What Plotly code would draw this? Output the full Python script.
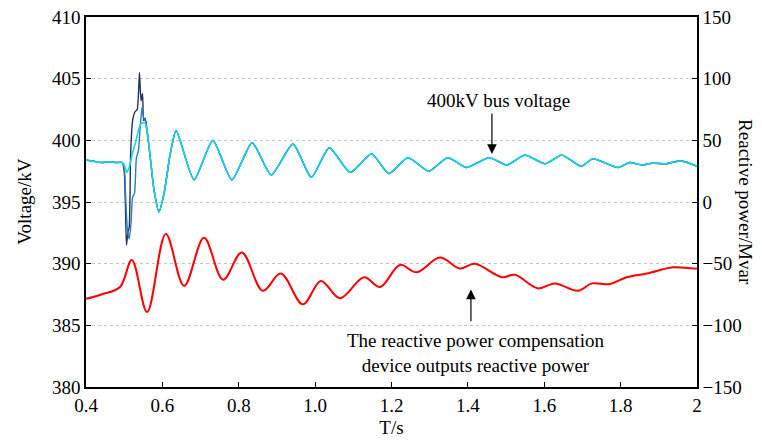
import plotly.graph_objects as go

# ---- data ----
pre_t = [0.40, 0.42, 0.44, 0.46, 0.48, 0.495]
pre_v = [398.4, 398.3, 398.2, 398.25, 398.2, 398.2]

navy_t = [0.500, 0.503, 0.506, 0.510, 0.513, 0.517, 0.522, 0.528, 0.534, 0.540, 0.544, 0.548, 0.551, 0.555]
navy_v = [397.5, 395.0, 391.5, 392.6, 392.9, 399.0, 401.6, 402.3, 402.5, 405.5, 403.2, 403.8, 401.6, 401.8]

blue_t = [0.500, 0.504, 0.508, 0.513, 0.518, 0.522, 0.527, 0.532, 0.537, 0.542, 0.547, 0.551, 0.555]
blue_v = [397.8, 395.3, 392.9, 392.0, 393.3, 395.4, 395.7, 398.6, 399.1, 401.1, 402.7, 401.8, 401.6]

cyan_t = [0.500, 0.507, 0.513, 0.522, 0.531, 0.540, 0.547, 0.555]
cyan_v = [398.0, 397.4, 397.8, 399.0, 400.0, 401.1, 401.4, 401.4]

post_t = [0.565, 0.578, 0.591, 0.605, 0.620, 0.636, 0.683, 0.732, 0.782, 0.835,
          0.885, 0.942, 0.990, 1.037, 1.092, 1.148, 1.193, 1.243, 1.298, 1.347,
          1.396, 1.456, 1.502, 1.549, 1.602, 1.646, 1.697, 1.727, 1.793, 1.824,
          1.855, 1.884, 1.920, 1.955, 1.975, 2.000]
post_v = [399.5, 396.0, 394.2, 395.8, 398.8, 400.8, 396.8, 400.0, 396.8, 399.8,
          397.2, 399.7, 397.0, 399.4, 397.4, 398.9, 397.3, 398.6, 397.5, 398.6,
          397.8, 398.6, 398.0, 398.8, 398.1, 398.8, 397.9, 398.5, 397.8, 398.2,
          398.0, 398.15, 398.1, 398.35, 398.2, 397.9]

q_t = [0.40, 0.44, 0.489, 0.520, 0.560, 0.609, 0.657, 0.709, 0.759, 0.808,
       0.863, 0.910, 0.968, 1.015, 1.065, 1.128, 1.170, 1.222, 1.266, 1.327,
       1.379, 1.418, 1.489, 1.523, 1.583, 1.628, 1.688, 1.725, 1.772, 1.816,
       1.869, 1.937, 1.990, 2.000]
q_m = [-78.5, -75, -68.9, -47, -89.2, -26, -68, -29, -63, -41,
       -72, -58, -83, -64, -78, -61, -69, -51, -57, -45,
       -54, -50, -61, -59, -70, -66, -72, -66, -66.5, -61,
       -58, -53, -54, -54]

x_ticks = [0.4, 0.6, 0.8, 1.0, 1.2, 1.4, 1.6, 1.8, 2.0]
x_labels = ["0.4", "0.6", "0.8", "1.0", "1.2", "1.4", "1.6", "1.8", "2"]

FONT = "Liberation Serif"
FS = 19

fig = go.Figure()
for tt, vv, col, w in [(navy_t, navy_v, "#1f3560", 1.4),
                       (blue_t, blue_v, "#2b7bbf", 1.4),
                       (cyan_t, cyan_v, "#12d6ec", 1.6)]:
    fig.add_trace(go.Scatter(x=pre_t + tt + post_t, y=pre_v + vv + post_v, mode="lines",
                             line=dict(color=col, width=w, shape="spline", smoothing=0.6),
                             showlegend=False))
fig.add_trace(go.Scatter(x=q_t, y=q_m, mode="lines", yaxis="y2",
                         line=dict(color="#ff0000", width=2, shape="spline", smoothing=1),
                         showlegend=False))

tickfont = dict(family=FONT, size=FS, color="black")
fig.update_layout(
    width=762, height=441,
    margin=dict(l=86, r=65, t=17, b=54),
    plot_bgcolor="white", paper_bgcolor="white",
    xaxis=dict(range=[0.4, 2.0], tickvals=x_ticks, ticktext=x_labels, ticks="inside",
               ticklen=5, tickcolor="black", showline=True, linecolor="black", linewidth=1.5,
               mirror=True, showgrid=False, zeroline=False, tickfont=tickfont, automargin=False,
               title=dict(text="T/s", font=dict(family=FONT, size=FS, color="black"), standoff=6)),
    yaxis=dict(range=[380, 410], dtick=5, ticks="inside", ticklen=5, tickcolor="black",
               showline=True, linecolor="black", linewidth=1.5, showgrid=True,
               gridcolor="#c4c4c4", griddash="dot", gridwidth=1, zeroline=False,
               tickfont=tickfont, automargin=False),
    yaxis2=dict(range=[-150, 150], dtick=50, overlaying="y", side="right", ticks="inside",
                ticklen=5, tickcolor="black", showline=True, linecolor="black", linewidth=1.5,
                showgrid=False, zeroline=False, tickfont=tickfont, automargin=False),
)

ann_font = dict(family=FONT, size=FS, color="black")
fig.add_annotation(x=-0.102, y=0.5, xref="paper", yref="paper", text="Voltage/kV",
                   textangle=-90, showarrow=False, font=ann_font, xanchor="center", yanchor="middle")
fig.add_annotation(x=1.08, y=0.5, xref="paper", yref="paper", text="Reactive power/Mvar",
                   textangle=90, showarrow=False, font=ann_font, xanchor="center", yanchor="middle")
fig.add_annotation(x=1.479, y=403.2, text="400kV bus voltage", showarrow=False, font=ann_font)
fig.add_annotation(x=1.463, y=398.9, ax=1.463, ay=402.3, axref="x", ayref="y", text="",
                   showarrow=True, arrowhead=2, arrowsize=1.6, arrowwidth=1.2, arrowcolor="black")
fig.add_annotation(x=1.419, y=382.75,
                   text="The reactive power compensation<br>device outputs reactive power",
                   showarrow=False, font=ann_font)
fig.add_annotation(x=1.408, y=387.9, ax=1.408, ay=385.2, axref="x", ayref="y", text="",
                   showarrow=True, arrowhead=2, arrowsize=1.6, arrowwidth=1.2, arrowcolor="black")

fig.write_html("out.html")
